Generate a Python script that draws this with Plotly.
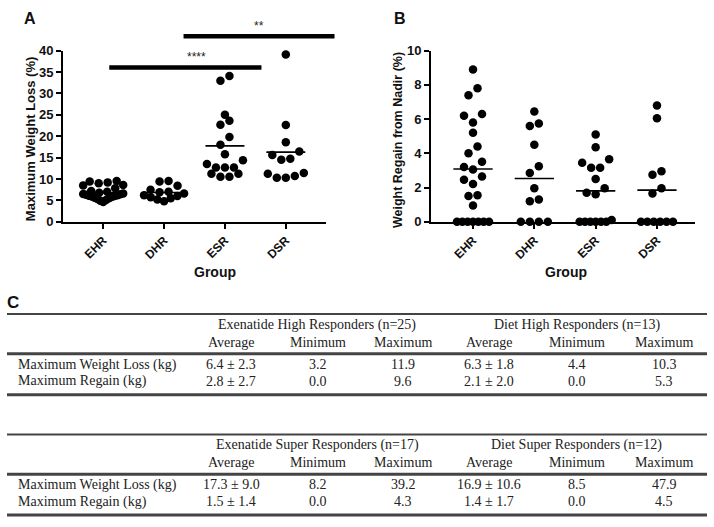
import numpy as np
import plotly.graph_objects as go

# ---------------- data ----------------
groups = ["EHR", "DHR", "ESR", "DSR"]

loss_ehr = [9.5, 9.4, 9.2, 9.0, 8.6, 8.5, 7.8, 7.2, 7.0, 6.8, 6.6, 6.5, 6.4,
            6.3, 6.2, 6.1, 6.0, 5.9, 5.8, 5.6, 5.5, 5.3, 5.1, 4.9, 4.6]
loss_dhr = [9.5, 9.4, 8.4, 7.5, 7.0, 6.9, 6.6, 6.2, 6.0, 5.7, 5.5, 5.2, 4.8]
loss_esr = [34.1, 33.0, 25.0, 22.7, 23.6, 19.8, 18.0, 15.8, 14.4, 13.5,
            12.7, 12.7, 12.7, 11.2, 10.5, 10.5, 11.2]
loss_dsr = [39.1, 22.6, 18.6, 16.4, 14.7, 14.5, 15.6, 11.4, 10.7, 10.3, 10.3, 11.2]

regain_ehr = [8.9, 7.8, 7.4, 6.2, 6.3, 5.8, 5.2, 4.4, 4.0, 3.5, 3.2, 3.05, 2.65,
              2.45, 2.2, 1.5, 1.55, 0.95, 0, 0, 0, 0, 0, 0, 0]
regain_dhr = [6.45, 5.75, 5.6, 4.5, 3.25, 2.85, 1.95, 1.3, 1.2, 0, 0, 0, 0]
regain_esr = [5.1, 4.35, 3.65, 3.45, 3.15, 3.15, 2.5, 1.95, 1.7, 1.6, 0.1,
              0, 0, 0, 0, 0, 0]
regain_dsr = [6.8, 6.05, 2.75, 2.95, 1.95, 1.65, 0, 0, 0, 0, 0, 0]

loss_ticks = [0, 5, 10, 15, 20, 25, 30, 35, 40]
regain_ticks = [0, 2, 4, 6, 8, 10]

# significance bars: (from category, to category, level, label)
sig_bars = [(0.1, 2.6, 36.1, "****"), (1.32, 3.8, 43.4, "**")]

# table C
row_labels = ["Maximum Weight Loss (kg)", "Maximum Regain (kg)"]
sub_headers = ["Average", "Minimum", "Maximum"]
table1_groups = ["Exenatide High Responders (n=25)", "Diet High Responders (n=13)"]
table1_rows = [["6.4 ± 2.3", "3.2", "11.9", "6.3 ± 1.8", "4.4", "10.3"],
               ["2.8 ± 2.7", "0.0", "9.6", "2.1 ± 2.0", "0.0", "5.3"]]
table2_groups = ["Exenatide Super Responders (n=17)", "Diet Super Responders (n=12)"]
table2_rows = [["17.3 ± 9.0", "8.2", "39.2", "16.9 ± 10.6", "8.5", "47.9"],
               ["1.5 ± 1.4", "0.0", "4.3", "1.4 ± 1.7", "0.0", "4.5"]]

# ---------------- layout constants ----------------
W, H = 714, 527
A_XPX = (63, 326)
B_XPX = (431, 695)
YPX = (45, 221)          # top, bottom of plot areas
A_XRANGE = [-0.66, 3.66]
B_XRANGE = [-0.685, 3.62]
A_YRANGE = [0, 40]
B_YRANGE = [0, 10]

SANS = "Liberation Sans, Arial, sans-serif"
SERIF = "Liberation Serif, Times New Roman, serif"
INK = "#111111"
MS = 8.5


def fx(px):
    return px / W


def fy(py):
    return 1 - py / H


def swarm(values, px_per_val, diam, gap, maxw):
    v = np.asarray(values, float)
    order = np.argsort(v, kind="stable")
    offs = np.zeros(len(v))
    rows, cur = [], [order[0]]
    for idx in order[1:]:
        if (v[idx] - v[cur[0]]) * px_per_val < diam:
            cur.append(idx)
        else:
            rows.append(cur)
            cur = [idx]
    rows.append(cur)
    for row in rows:
        m = len(row)
        step = gap if m < 2 else min(gap, maxw / (m - 1))
        slots = sorted([j - (m - 1) / 2 for j in range(m)], key=lambda s: (abs(s), s))
        for idx, s in zip(row, slots):
            offs[idx] = s * step
    return offs


fig = go.Figure()


def add_panel(series, xname, yname, xpx, xrange, yrange, maxw):
    px_per_cat = (xpx[1] - xpx[0]) / (xrange[1] - xrange[0])
    px_per_val = (YPX[1] - YPX[0]) / (yrange[1] - yrange[0])
    for i, vals in enumerate(series):
        offs = swarm(vals, px_per_val, 9, 9.0, maxw) / px_per_cat
        fig.add_trace(go.Scatter(
            x=i + offs, y=vals, mode="markers", xaxis=xname, yaxis=yname,
            marker=dict(size=MS, color="black"), cliponaxis=False,
            showlegend=False, hoverinfo="y"))
        m = float(np.mean(vals))
        fig.add_trace(go.Scatter(
            x=[i - 0.32, i + 0.32], y=[m, m], mode="lines", xaxis=xname, yaxis=yname,
            line=dict(color="black", width=1.6), showlegend=False, hoverinfo="skip"))


add_panel([loss_ehr, loss_dhr, loss_esr, loss_dsr], "x", "y",
          A_XPX, A_XRANGE, A_YRANGE, 40)
add_panel([regain_ehr, regain_dhr, regain_esr, regain_dsr], "x2", "y2",
          B_XPX, B_XRANGE, B_YRANGE, 32)

axis_common = dict(showline=True, linecolor="black", linewidth=2, ticks="outside",
                   ticklen=5, tickwidth=2, tickcolor="black", showgrid=False,
                   zeroline=False, fixedrange=True)
xtickfont = dict(family=SANS, size=12, color=INK, weight="bold")
ytickfont = dict(family=SANS, size=13, color=INK, weight="bold")
ydom = [fy(YPX[1]), fy(YPX[0])]

fig.update_layout(
    width=W, height=H, margin=dict(l=0, r=0, t=0, b=0),
    paper_bgcolor="white", plot_bgcolor="white", showlegend=False,
    xaxis=dict(domain=[fx(A_XPX[0]), fx(A_XPX[1])], range=A_XRANGE, anchor="y",
               tickvals=list(range(len(groups))), ticktext=groups, tickangle=-45,
               tickfont=xtickfont, **axis_common),
    yaxis=dict(domain=ydom, range=A_YRANGE, anchor="x", tickvals=loss_ticks,
               tickfont=ytickfont, **axis_common),
    xaxis2=dict(domain=[fx(B_XPX[0]), fx(B_XPX[1])], range=B_XRANGE, anchor="y2",
                tickvals=list(range(len(groups))), ticktext=groups, tickangle=-45,
                tickfont=xtickfont, **axis_common),
    yaxis2=dict(domain=ydom, range=B_YRANGE, anchor="x2", tickvals=regain_ticks,
                tickfont=ytickfont, **axis_common),
)

annotations = []
shapes = []


def A_x(v):
    return fx(A_XPX[0] + (v - A_XRANGE[0]) * (A_XPX[1] - A_XPX[0]) / (A_XRANGE[1] - A_XRANGE[0]))


def A_y(v):
    return fy(YPX[1] - (v - A_YRANGE[0]) * (YPX[1] - YPX[0]) / (A_YRANGE[1] - A_YRANGE[0]))


for x0, x1, lev, lab in sig_bars:
    shapes.append(dict(type="line", xref="paper", yref="paper", x0=A_x(x0), x1=A_x(x1),
                       y0=A_y(lev), y1=A_y(lev), line=dict(color="black", width=4.5)))
    annotations.append(dict(x=A_x((x0 + x1) / 2), y=A_y(lev), xref="paper", yref="paper",
                            text=lab, showarrow=False, yanchor="bottom", yshift=1,
                            font=dict(family=SANS, size=12, color="#222222")))

# axis titles and panel letters
def ann(text, px, py, size, family=SANS, bold=True, angle=0, xanchor="center", color=INK):
    annotations.append(dict(x=fx(px), y=fy(py), xref="paper", yref="paper", text=text,
                            showarrow=False, textangle=angle, xanchor=xanchor,
                            yanchor="middle",
                            font=dict(family=family, size=size, color=color,
                                      weight="bold" if bold else "normal")))


ann("Maximum Weight Loss (%)", 30, 136, 13, angle=-90)
ann("Weight Regain from Nadir (%)", 398, 137, 12.5, angle=-90)
ann("Group", 215, 273, 14)
ann("Group", 566, 273, 14)
ann("A", 29.5, 12, 16)
ann("B", 399.5, 12, 16)
ann("C", 13, 304.5, 17)

# table C
col_px = [231, 318, 403, 489, 577, 664]
RULE_X = (7, 707)


def draw_table(groups_t, rows_t, off):
    y_head, y_sub, y_r1, y_r2 = 327 + off, 345 + off, 368 + off, 385 + off
    for k, g in enumerate(groups_t):
        cx = (col_px[3 * k] + col_px[3 * k + 2]) / 2
        ann(g, cx, y_head, 14, family=SERIF, bold=False, color="#222222")
        for j, sh in enumerate(sub_headers):
            ann(sh, col_px[3 * k + j], y_sub, 14, family=SERIF, bold=False, color="#222222")
    for r, (lab, yy) in enumerate(zip(row_labels, [y_r1, y_r2])):
        ann(lab, 16, yy, 14, family=SERIF, bold=False, xanchor="left", color="#222222")
        for j, cell in enumerate(rows_t[r]):
            ann(cell, col_px[j], yy, 14, family=SERIF, bold=False, color="#222222")
    for ry, wdt in [(316 + off, 2), (357 + off, 3), (399 + off, 3)]:
        shapes.append(dict(type="line", xref="paper", yref="paper",
                           x0=fx(RULE_X[0]), x1=fx(RULE_X[1]), y0=fy(ry), y1=fy(ry),
                           line=dict(color="#444444", width=wdt)))


draw_table(table1_groups, table1_rows, 0)
draw_table(table2_groups, table2_rows, 124)

fig.update_layout(annotations=annotations, shapes=shapes)

fig.write_html("out.html", config={"displayModeBar": False},
               post_script="document.body.style.margin='0';")
